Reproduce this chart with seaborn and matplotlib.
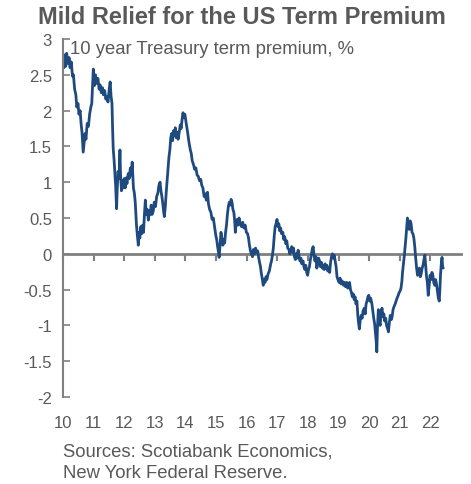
import seaborn as sns
import pandas as pd
import matplotlib
matplotlib.use("Agg")
import matplotlib.pyplot as plt
from matplotlib.ticker import FuncFormatter

# veri: resimden okunan 10 yillik vade primi (%)
yil = [
    2010.00, 2010.03, 2010.06, 2010.09, 2010.12, 2010.16, 2010.20, 2010.23, 2010.27, 2010.31,
    2010.34, 2010.38, 2010.42, 2010.45, 2010.49, 2010.52, 2010.56, 2010.59, 2010.62, 2010.66,
    2010.69, 2010.72, 2010.75, 2010.79, 2010.83, 2010.87, 2010.91, 2010.94, 2010.97, 2010.99,
    2011.03, 2011.06, 2011.10, 2011.14, 2011.18, 2011.21, 2011.25, 2011.29, 2011.32, 2011.36,
    2011.40, 2011.43, 2011.47, 2011.51, 2011.54, 2011.57, 2011.60, 2011.62, 2011.64, 2011.67,
    2011.70, 2011.72, 2011.75, 2011.77, 2011.80, 2011.83, 2011.86, 2011.88, 2011.91, 2011.94,
    2011.97, 2012.00, 2012.03, 2012.06, 2012.09, 2012.13, 2012.16, 2012.20, 2012.23, 2012.26,
    2012.28, 2012.30, 2012.33, 2012.36, 2012.38, 2012.40, 2012.43, 2012.46, 2012.48, 2012.51,
    2012.54, 2012.57, 2012.60, 2012.63, 2012.66, 2012.69, 2012.72, 2012.75, 2012.79, 2012.82,
    2012.85, 2012.88, 2012.91, 2012.95, 2012.98, 2013.02, 2013.06, 2013.10, 2013.13, 2013.17,
    2013.20, 2013.23, 2013.26, 2013.29, 2013.31, 2013.34, 2013.37, 2013.40, 2013.43, 2013.46,
    2013.49, 2013.52, 2013.55, 2013.58, 2013.61, 2013.64, 2013.67, 2013.70, 2013.73, 2013.76,
    2013.79, 2013.83, 2013.86, 2013.89, 2013.92, 2013.95, 2013.98, 2014.01, 2014.04, 2014.07,
    2014.10, 2014.13, 2014.16, 2014.19, 2014.22, 2014.26, 2014.30, 2014.34, 2014.38, 2014.42,
    2014.46, 2014.50, 2014.53, 2014.57, 2014.61, 2014.64, 2014.68, 2014.72, 2014.75, 2014.79,
    2014.83, 2014.87, 2014.91, 2014.95, 2014.99, 2015.02, 2015.05, 2015.08, 2015.10, 2015.13,
    2015.16, 2015.19, 2015.22, 2015.25, 2015.28, 2015.31, 2015.34, 2015.37, 2015.40, 2015.43,
    2015.46, 2015.49, 2015.52, 2015.55, 2015.58, 2015.61, 2015.63, 2015.66, 2015.69, 2015.72,
    2015.75, 2015.79, 2015.83, 2015.87, 2015.91, 2015.95, 2015.99, 2016.03, 2016.06, 2016.09,
    2016.12, 2016.15, 2016.19, 2016.22, 2016.26, 2016.29, 2016.32, 2016.36, 2016.39, 2016.42,
    2016.45, 2016.48, 2016.51, 2016.54, 2016.57, 2016.60, 2016.63, 2016.66, 2016.70, 2016.74,
    2016.78, 2016.81, 2016.84, 2016.87, 2016.90, 2016.93, 2016.96, 2016.99, 2017.02, 2017.05,
    2017.08, 2017.11, 2017.14, 2017.18, 2017.21, 2017.24, 2017.28, 2017.31, 2017.34, 2017.38,
    2017.41, 2017.44, 2017.47, 2017.50, 2017.53, 2017.56, 2017.59, 2017.62, 2017.65, 2017.68,
    2017.71, 2017.74, 2017.77, 2017.80, 2017.84, 2017.87, 2017.90, 2017.93, 2017.96, 2017.99,
    2018.02, 2018.05, 2018.08, 2018.11, 2018.14, 2018.17, 2018.20, 2018.23, 2018.26, 2018.29,
    2018.32, 2018.35, 2018.38, 2018.41, 2018.44, 2018.47, 2018.50, 2018.53, 2018.56, 2018.59,
    2018.62, 2018.65, 2018.68, 2018.71, 2018.74, 2018.77, 2018.80, 2018.83, 2018.86, 2018.89,
    2018.92, 2018.95, 2018.98, 2019.02, 2019.05, 2019.08, 2019.12, 2019.16, 2019.20, 2019.23,
    2019.27, 2019.30, 2019.33, 2019.36, 2019.39, 2019.42, 2019.45, 2019.48, 2019.51, 2019.54,
    2019.57, 2019.60, 2019.63, 2019.65, 2019.68, 2019.71, 2019.74, 2019.77, 2019.80, 2019.84,
    2019.87, 2019.90, 2019.93, 2019.96, 2019.99, 2020.02, 2020.05, 2020.09, 2020.12, 2020.15,
    2020.18, 2020.21, 2020.23, 2020.25, 2020.27, 2020.30, 2020.33, 2020.36, 2020.39, 2020.42,
    2020.45, 2020.48, 2020.51, 2020.54, 2020.57, 2020.60, 2020.63, 2020.66, 2020.69, 2020.72,
    2020.75, 2020.78, 2020.81, 2020.85, 2020.88, 2020.91, 2020.95, 2020.98, 2021.01, 2021.04,
    2021.07, 2021.09, 2021.12, 2021.15, 2021.18, 2021.20, 2021.23, 2021.25, 2021.28, 2021.31,
    2021.34, 2021.37, 2021.40, 2021.43, 2021.46, 2021.49, 2021.52, 2021.55, 2021.58, 2021.61,
    2021.64, 2021.67, 2021.70, 2021.73, 2021.76, 2021.79, 2021.82, 2021.84, 2021.87, 2021.90,
    2021.93, 2021.96, 2021.99, 2022.02, 2022.05, 2022.08, 2022.11, 2022.14, 2022.17, 2022.20,
    2022.23, 2022.26, 2022.29, 2022.31, 2022.33, 2022.36, 2022.38, 2022.40, 2022.42,
]
prim = [
    2.72, 2.60, 2.78, 2.62, 2.80, 2.66, 2.74, 2.60, 2.68, 2.48,
    2.50, 2.30, 2.22, 2.05, 2.10, 1.95, 2.00, 1.82, 1.70, 1.42,
    1.55, 1.68, 1.60, 1.82, 1.78, 1.95, 2.05, 2.10, 2.40, 2.58,
    2.35, 2.50, 2.38, 2.45, 2.30, 2.36, 2.25, 2.32, 2.22, 2.28,
    2.16, 2.20, 2.12, 2.30, 2.40, 2.20, 2.10, 1.75, 1.47, 1.30,
    1.10, 0.95, 0.63, 0.90, 1.15, 1.05, 1.45, 1.10, 0.88, 1.02,
    0.92, 1.05, 0.92, 1.06, 0.98, 1.12, 1.05, 1.20, 1.10, 1.28,
    1.10, 0.92, 0.85, 0.72, 0.55, 0.40, 0.25, 0.12, 0.30, 0.22,
    0.38, 0.28, 0.40, 0.30, 0.55, 0.75, 0.55, 0.62, 0.47, 0.60,
    0.55, 0.68, 0.55, 0.60, 0.72, 0.66, 0.80, 0.85, 0.95, 1.00,
    0.88, 0.80, 0.70, 0.58, 0.52, 0.65, 0.85, 1.02, 1.20, 1.35,
    1.45, 1.62, 1.68, 1.58, 1.72, 1.65, 1.76, 1.62, 1.70, 1.60,
    1.68, 1.80, 1.75, 1.88, 1.97, 1.90, 1.95, 1.86, 1.78, 1.70,
    1.60, 1.52, 1.45, 1.40, 1.30, 1.25, 1.18, 1.20, 1.10, 1.08,
    1.02, 1.04, 0.96, 0.92, 0.80, 0.84, 0.75, 0.86, 0.70, 0.62,
    0.58, 0.48, 0.50, 0.38, 0.26, 0.20, 0.10, 0.02, -0.05, 0.12,
    0.30, 0.22, 0.12, 0.20, 0.15, 0.30, 0.40, 0.55, 0.66, 0.72,
    0.68, 0.76, 0.72, 0.62, 0.58, 0.45, 0.30, 0.45, 0.48, 0.40,
    0.50, 0.42, 0.38, 0.44, 0.36, 0.40, 0.30, 0.28, 0.22, 0.12,
    0.05, 0.00, -0.04, 0.06, 0.00, 0.08, 0.02, 0.04, -0.05, -0.12,
    -0.18, -0.28, -0.35, -0.44, -0.36, -0.40, -0.32, -0.36, -0.28, -0.24,
    -0.15, -0.10, -0.02, 0.08, 0.25, 0.38, 0.42, 0.48, 0.38, 0.42,
    0.32, 0.36, 0.28, 0.30, 0.20, 0.24, 0.14, 0.18, 0.08, 0.06,
    0.00, 0.04, 0.10, 0.02, 0.08, -0.04, -0.08, 0.00, -0.06, 0.05,
    -0.04, -0.10, -0.06, -0.14, -0.10, -0.18, -0.22, -0.16, -0.26, -0.30,
    -0.22, -0.18, -0.08, -0.02, 0.06, 0.10, -0.02, -0.10, -0.04, -0.20,
    -0.14, -0.06, -0.10, -0.18, -0.12, -0.20, -0.16, -0.22, -0.14, -0.20,
    -0.16, -0.24, -0.20, -0.26, -0.12, -0.04, 0.00, -0.06, -0.02, -0.10,
    -0.18, -0.32, -0.36, -0.40, -0.34, -0.42, -0.38, -0.44, -0.40, -0.46,
    -0.40, -0.48, -0.42, -0.40, -0.50, -0.54, -0.60, -0.56, -0.64, -0.60,
    -0.70, -0.66, -0.86, -0.95, -1.05, -0.92, -0.86, -0.90, -0.80, -0.76,
    -0.84, -0.70, -0.66, -0.60, -0.58, -0.66, -0.62, -0.70, -0.80, -0.90,
    -0.98, -1.12, -1.22, -1.37, -1.05, -0.78, -0.95, -1.00, -0.82, -0.76,
    -0.88, -0.84, -0.94, -0.90, -1.00, -1.04, -1.09, -0.96, -0.86, -0.92,
    -0.88, -0.78, -0.74, -0.70, -0.66, -0.62, -0.58, -0.54, -0.52, -0.48,
    -0.38, -0.26, -0.14, -0.02, 0.12, 0.22, 0.40, 0.50, 0.38, 0.34,
    0.46, 0.42, 0.30, 0.28, 0.22, 0.10, -0.06, -0.20, -0.30, -0.24,
    -0.20, -0.32, -0.28, -0.20, -0.16, -0.08, -0.02, -0.14, -0.30, -0.40,
    -0.58, -0.45, -0.30, -0.36, -0.26, -0.30, -0.40, -0.44, -0.36, -0.42,
    -0.52, -0.62, -0.66, -0.50, -0.30, -0.12, -0.05, -0.18, -0.20,
]
yil_etiket = ["10", "11", "12", "13", "14", "15", "16", "17", "18", "19", "20", "21", "22"]
y_ticks = [-2, -1.5, -1, -0.5, 0, 0.5, 1, 1.5, 2, 2.5, 3]

df = pd.DataFrame({"yil": yil, "prim": prim})

sns.set_theme(style="white")
plt.rcParams["font.family"] = ["Liberation Sans", "DejaVu Sans"]
plt.rcParams["axes.unicode_minus"] = False

gri = "#595959"
cizgi = "#808080"
lacivert = "#1f4a80"

fig = plt.figure(figsize=(4.71, 4.85), dpi=100)
ax = fig.add_axes([63 / 471, 1 - 398 / 485, (461 - 63) / 471, (398 - 40) / 485])

sns.lineplot(data=df, x="yil", y="prim", ax=ax, color=lacivert, linewidth=2.0, sort=False)

ax.set_xlim(2010, 2023)
ax.set_ylim(-2, 3)
ax.set_xlabel("")
ax.set_ylabel("")

# y ekseni
ax.set_yticks(y_ticks)
ax.yaxis.set_major_formatter(FuncFormatter(lambda v, p: f"{v:g}"))
ax.tick_params(axis="y", direction="in", length=5, width=1.2, color=cizgi,
               labelsize=12, labelcolor=gri, pad=8, left=True)
for s in ["top", "right", "bottom"]:
    ax.spines[s].set_visible(False)
ax.spines["left"].set_color(cizgi)
ax.spines["left"].set_linewidth(1.5)

# x etiketleri altta, ticksiz
ax.set_xticks(list(range(2010, 2023)))
ax.set_xticklabels(yil_etiket)
ax.tick_params(axis="x", length=0, labelsize=12, labelcolor=gri, pad=13)

# sifir cizgisi ve tickleri
sec = ax.secondary_xaxis(0.4)
sec.set_xticks(list(range(2010, 2023)))
sec.set_xticklabels([])
sec.tick_params(axis="x", direction="out", length=5, width=1.5, color=cizgi)
sec.spines["bottom"].set_color(cizgi)
sec.spines["bottom"].set_linewidth(2)

ax.text(0.018, 0.998, "10 year Treasury term premium, %", transform=ax.transAxes,
        ha="left", va="top", fontsize=13.3, color=gri)

fig.text(242 / 471, 1 - 17 / 485, "Mild Relief for the US Term Premium",
         ha="center", va="center", fontsize=17, fontweight="bold", color=gri)
fig.text(63 / 471, 1 - 444 / 485, "Sources: Scotiabank Economics,\nNew York Federal Reserve.",
         ha="left", va="top", fontsize=13.3, color=gri, linespacing=1.3)

fig.savefig("out.png", dpi=100)
